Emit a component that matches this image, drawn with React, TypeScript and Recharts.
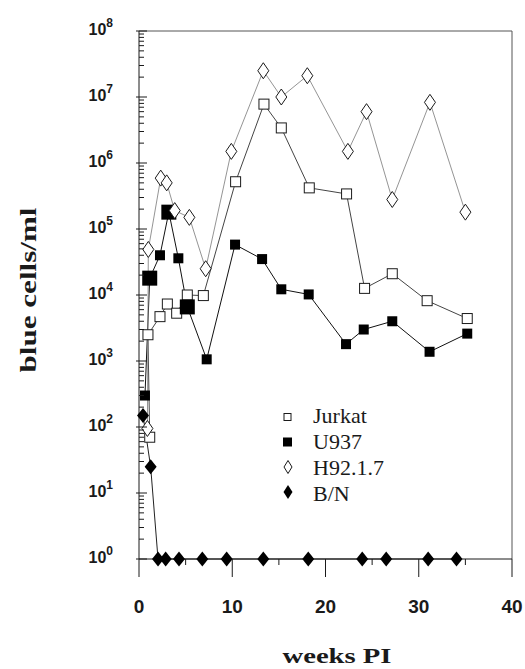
import { LineChart, Line, XAxis, YAxis, Legend, ReferenceLine, Label } from 'recharts';

// weeks post infection / blue cells per ml
const seriesNames = ['Jurkat', 'U937', 'H92.1.7', 'B/N'];

const jurkatWeeks = [1.15, 0.96, 2.25, 3.04, 4.04, 5.18, 6.9, 10.36, 13.4, 15.26, 18.26, 22.26, 24.19, 27.16, 30.9, 35.2];
const jurkatCells = [70, 2500, 4700, 7300, 5300, 10000, 9800, 5.2e5, 7.8e6, 3.4e6, 4.2e5, 3.4e5, 12600, 21000, 8200, 4400];

const u937Weeks = [0.64, 1.15, 2.25, 3.2, 4.22, 5.18, 7.26, 10.3, 13.2, 15.26, 18.2, 22.2, 24.1, 27.16, 31.16, 35.2];
const u937Cells = [300, 18000, 40000, 1.8e5, 36000, 6600, 1060, 58000, 35000, 12200, 10200, 1800, 3000, 4000, 1380, 2600];

const h92Weeks = [0.9, 1.0, 2.33, 2.97, 3.83, 5.4, 7.15, 9.9, 13.33, 15.26, 18.05, 22.4, 24.4, 27.16, 31.2, 35.0];
const h92Cells = [95, 49000, 5.9e5, 5.0e5, 1.9e5, 1.5e5, 25000, 1.5e6, 2.5e7, 1.0e7, 2.1e7, 1.5e6, 6.0e6, 2.8e5, 8.3e6, 1.8e5];

const bnWeeks = [0.43, 1.25, 2.04, 2.86, 4.29, 6.79, 9.4, 13.33, 18.15, 23.94, 26.51, 31.01, 34.05];
const bnCells = [150, 25, 1, 1, 1, 1, 1, 1, 1, 1, 1, 1, 1];

const xTicks = [0, 5, 10, 15, 20, 25, 30, 35, 40];
const decades = [0, 1, 2, 3, 4, 5, 6, 7, 8];
const minorSteps = [2, 3, 4, 5, 6, 7, 8, 9];
const yTicks = decades.flatMap((d) =>
  d === 8 ? [10 ** d] : [10 ** d, ...minorSteps.map((m) => m * 10 ** d)]
);

const toPoints = (weeks: number[], cells: number[]) => weeks.map((w, i) => ({ w, v: cells[i] }));

const jurkat = toPoints(jurkatWeeks, jurkatCells);
const u937 = toPoints(u937Weeks, u937Cells);
const h92 = toPoints(h92Weeks, h92Cells);
const bn = toPoints(bnWeeks, bnCells);

const NUM_FONT = 'Liberation Sans Narrow, Liberation Sans, Arial, sans-serif';
const SERIF = 'Liberation Serif, Times New Roman, Times, serif';
const INK = '#1a1a1a';

// markers that look doubled up in the original
const U937_BIG = [1, 3, 5];

function XTick(props: any) {
  const { x, y, payload } = props;
  const major = payload.value % 10 === 0;
  return (
    <g>
      <line x1={x} x2={x} y1={y} y2={y + (major ? 18 : 6)} stroke={INK} />
      {major && (
        <text x={x} y={y + 54} textAnchor="middle" style={{ fontFamily: NUM_FONT }} fontWeight="bold" fontSize={19} fill={INK}>
          {payload.value}
        </text>
      )}
    </g>
  );
}

function YTick(props: any) {
  const { x, y, payload } = props;
  const e = Math.log10(payload.value);
  const major = Math.abs(e - Math.round(e)) < 1e-6;
  if (!major) return <line x1={x} x2={x + 5} y1={y} y2={y} stroke={INK} />;
  return (
    <g>
      <line x1={x - 3} x2={x + 8} y1={y} y2={y} stroke={INK} />
      <text x={x - 26} y={y + 4} textAnchor="end" style={{ fontFamily: NUM_FONT }} fontWeight="bold" fontSize={16} fill={INK}>
        10
        <tspan dy={-8} fontSize={12}>{Math.round(e)}</tspan>
      </text>
    </g>
  );
}

const openSquare = (props: any) => {
  const { cx, cy, index } = props;
  if (cx == null || cy == null) return <g key={index} />;
  return <rect key={index} x={cx - 5} y={cy - 5} width={10} height={10} fill="#fff" stroke={INK} strokeWidth={1} />;
};

const filledSquare = (props: any) => {
  const { cx, cy, index } = props;
  if (cx == null || cy == null) return <g key={index} />;
  const s = U937_BIG.includes(index) ? 15 : 10;
  return <rect key={index} x={cx - s / 2} y={cy - s / 2} width={s} height={s} fill="#000" />;
};

const diamond = (cx: number, cy: number, w: number, h: number) =>
  `${cx},${cy - h / 2} ${cx + w / 2},${cy} ${cx},${cy + h / 2} ${cx - w / 2},${cy}`;

const openDiamond = (props: any) => {
  const { cx, cy, index } = props;
  if (cx == null || cy == null) return <g key={index} />;
  return <polygon key={index} points={diamond(cx, cy, 11, 16)} fill="#fff" stroke={INK} strokeWidth={1} />;
};

const filledDiamond = (props: any) => {
  const { cx, cy, index } = props;
  if (cx == null || cy == null) return <g key={index} />;
  return <polygon key={index} points={diamond(cx, cy, 12, 15)} fill="#000" />;
};

const legendSymbols: Record<string, any> = {
  Jurkat: (y: number) => <rect x={14} y={y - 3.5} width={7} height={7} fill="#fff" stroke={INK} />,
  U937: (y: number) => <rect x={13} y={y - 4.5} width={9} height={9} fill="#000" />,
  'H92.1.7': (y: number) => <polygon points={diamond(18, y, 8, 13)} fill="#fff" stroke={INK} />,
  'B/N': (y: number) => <polygon points={diamond(18, y, 9, 14)} fill="#000" />,
};

function LegendBox() {
  return (
    <svg width={160} height={115}>
      {seriesNames.map((name, i) => (
        <g key={name}>
          {legendSymbols[name](22 + i * 25)}
          <text x={43} y={28 + i * 26} style={{ fontFamily: SERIF }} fontSize={22} fill={INK}>
            {name}
          </text>
        </g>
      ))}
    </svg>
  );
}

const YTitle = () => (
  <text
    transform="translate(36,290) rotate(-90)"
    textAnchor="middle"
    style={{ fontFamily: SERIF }}
    fontWeight="bold"
    fontSize={24}
    textLength={165}
    lengthAdjust="spacingAndGlyphs"
    fill={INK}
  >
    blue cells/ml
  </text>
);

const XTitle = () => (
  <text
    x={337}
    y={663}
    textAnchor="middle"
    style={{ fontFamily: SERIF }}
    fontWeight="bold"
    fontSize={22}
    textLength={109}
    lengthAdjust="spacingAndGlyphs"
    fill={INK}
  >
    weeks PI
  </text>
);

export default function App() {
  return (
    <div style={{ position: 'absolute', left: 0, top: 0, background: '#fff' }}>
      <LineChart width={525} height={669} margin={{ top: 31, right: 13, left: 0, bottom: 0 }}>
        <XAxis
          type="number"
          dataKey="w"
          domain={[0, 40]}
          ticks={xTicks}
          interval={0}
          tickSize={0}
          tickMargin={0}
          tickLine={false}
          tick={<XTick />}
          height={110}
          axisLine={{ stroke: INK }}
        >
          <Label content={<XTitle />} />
        </XAxis>
        <YAxis
          type="number"
          scale="log"
          domain={[1, 1e8]}
          ticks={yTicks}
          interval={0}
          tickSize={0}
          tickMargin={0}
          tickLine={false}
          tick={<YTick />}
          width={139}
          axisLine={{ stroke: INK }}
        >
          <Label content={<YTitle />} />
        </YAxis>
        <ReferenceLine y={1e8} stroke="#555" />
        <ReferenceLine x={40} stroke="#555" />
        <Line name={seriesNames[0]} data={jurkat} dataKey="v" type="linear" stroke="#444" strokeWidth={1} dot={openSquare} isAnimationActive={false} />
        <Line name={seriesNames[1]} data={u937} dataKey="v" type="linear" stroke="#111" strokeWidth={1} dot={filledSquare} isAnimationActive={false} />
        <Line name={seriesNames[2]} data={h92} dataKey="v" type="linear" stroke="#888" strokeWidth={0.9} dot={openDiamond} isAnimationActive={false} />
        <Line name={seriesNames[3]} data={bn} dataKey="v" type="linear" stroke="#222" strokeWidth={1} dot={filledDiamond} isAnimationActive={false} />
        <Legend
          layout="horizontal"
          verticalAlign="middle"
          align="center"
          content={<LegendBox />}
          wrapperStyle={{ left: 270, top: 395, width: 160, height: 115 }}
        />
      </LineChart>
    </div>
  );
}
